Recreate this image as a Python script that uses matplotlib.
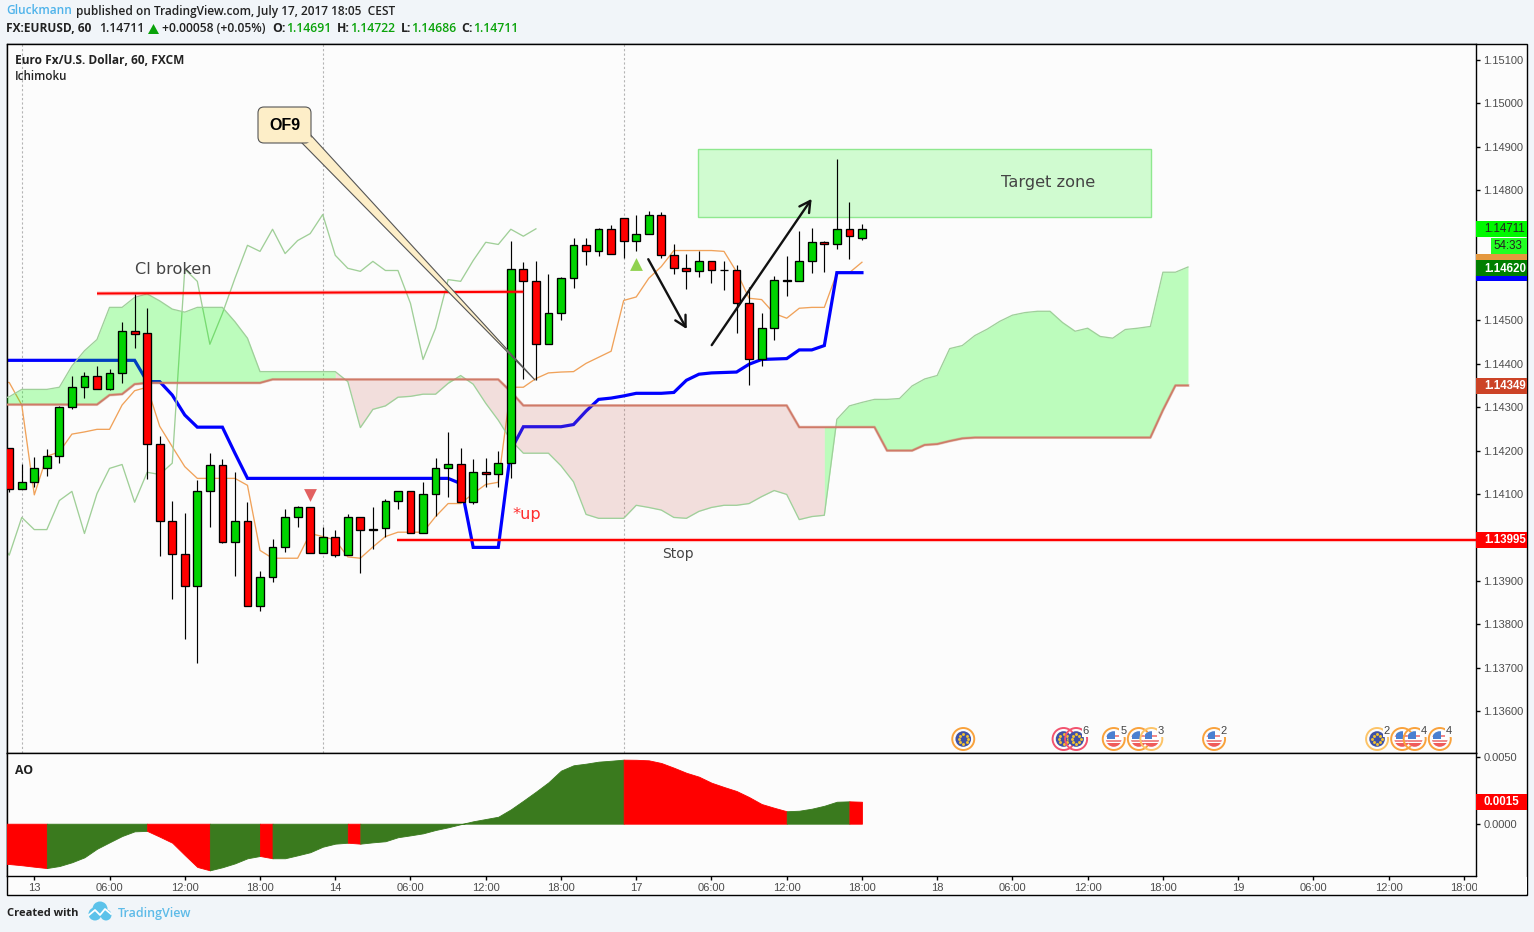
import numpy as np
import matplotlib
matplotlib.use("Agg")
import matplotlib.pyplot as plt
from matplotlib.patches import Rectangle, Circle, Polygon, FancyBboxPatch

W, H = 1534, 932
# ---------------- data (prices x 1e5, bar index 0 = 13 Jul 00:00) ----------------
opens = [114205,114111,114127,114161,114187,114300,114346,114373,114343,114378,114475,114470,114216,114037,113961,113887,114106,114166,113990,114037,113841,113908,113977,114046,114069,113965,114002,113959,114046,114020,114021,114085,114106,114009,114101,114159,114168,114081,114150,114145,114171,114618,114590,114445,114516,114597,114673,114659,114710,114735,114684,114700,114744,114650,114620,114613,114636,114615,114615,114539,114410,114482,114594,114590,114638,114680,114675,114710,114691]
highs = [114207,114169,114186,114203,114303,114372,114382,114395,114388,114496,114561,114528,114233,114084,114056,114132,114194,114180,114150,114081,113922,113996,114065,114072,114069,114025,114018,114054,114046,114071,114088,114106,114108,114127,114184,114242,114205,114180,114182,114198,114684,114634,114636,114606,114601,114689,114691,114714,114720,114735,114744,114751,114749,114676,114653,114660,114636,114636,114627,114578,114516,114602,114648,114705,114712,114682,114871,114772,114722]
lows = [114105,114111,114117,114142,114172,114296,114322,114341,114339,114356,114436,114135,113958,113858,113766,113710,114024,113988,113911,113841,113831,113897,113966,114024,113963,113965,113955,113959,113918,113973,114002,114066,114009,114009,114050,114094,114081,114078,114117,114115,114138,114366,114362,114445,114501,114575,114628,114648,114654,114644,114660,114700,114643,114607,114572,114601,114586,114570,114471,114351,114395,114455,114556,114590,114610,114612,114665,114641,114686]
closes = [114111,114127,114161,114187,114300,114346,114373,114343,114378,114475,114469,114216,114037,113961,113887,114106,114166,113990,114037,113841,113908,113977,114046,114069,113965,114002,113959,114046,114018,114018,114085,114106,114009,114101,114159,114168,114081,114150,114145,114171,114618,114590,114445,114516,114597,114673,114659,114710,114654,114684,114700,114744,114650,114620,114613,114636,114615,114615,114539,114410,114482,114594,114590,114638,114680,114675,114710,114694,114711]
candle_first_bar = -2

kijun = [114408,114408,114408,114408,114408,114408,114408,114408,114408,114408,114408,114408,114359,114359,114328,114282,114254,114254,114254,114194,114136,114136,114136,114136,114136,114136,114136,114136,114136,114136,114136,114136,114136,114136,114136,114136,114136,114124,113977,113977,113977,114201,114255,114255,114255,114255,114260,114291,114318,114321,114326,114332,114332,114332,114334,114362,114376,114379,114380,114381,114399,114410,114411,114412,114432,114432,114442,114610,114610,114610]
tenkan = [114357,114357,114305,114098,114187,114197,114238,114243,114249,114249,114305,114338,114346,114256,114209,114163,114136,114136,114136,114136,114120,113970,113952,113952,113952,114009,114002,113994,113955,113952,113978,114002,114012,114012,114012,114048,114078,114078,114101,114122,114127,114346,114346,114366,114379,114381,114382,114401,114415,114429,114546,114554,114597,114624,114661,114661,114661,114661,114659,114612,114551,114548,114516,114505,114528,114530,114530,114609,114610,114634]
span_a = [114316,114324,114341,114341,114341,114346,114395,114430,114456,114530,114530,114553,114561,114545,114526,114519,114530,114530,114530,114497,114459,114382,114382,114382,114382,114382,114382,114382,114359,114253,114295,114303,114323,114325,114330,114330,114355,114373,114353,114309,114270,114224,114194,114194,114194,114165,114128,114053,114044,114044,114044,114074,114069,114063,114046,114044,114060,114069,114074,114074,114078,114094,114108,114099,114041,114048,114051,114272,114303,114311,114318,114318,114320,114349,114365,114373,114435,114442,114465,114480,114498,114512,114518,114521,114521,114495,114475,114482,114463,114459,114479,114482,114486,114611,114611,114623]
span_b = [114306,114306,114306,114306,114306,114306,114306,114306,114306,
          114328,114330,114353,
          114356,114356,114356,114356,114356,114356,114356,114356,114356,114356,
          114364,114364,114364,114364,114364,114364,114364,114364,114364,114364,
          114364,114364,114364,114364,114364,114364,114364,114364,114364,
          114336,
          114304,114304,114304,114304,114304,114304,114304,114304,114304,114304,114304,
          114304,114304,114304,114304,114304,114304,114304,114304,114304,114304,114304,
          114254,114254,114254,114254,114254,114254,114254,
          114200,114200,114200,
          114213,114215,114222,114228,
          114230,114230,114230,114230,114230,114230,114230,114230,114230,114230,114230,114230,114230,114230,114230,
          114293,114350,114350]
ichimoku_first_bar = -3
chikou_shift = 26

ao_values = [-30.0,-30.1,-31.0,-32.1,-33.1,-31.6,-28.8,-25.1,-18.7,-13.9,-9.2,-5.7,-5.4,-9.7,-14.2,-23.4,-32.3,-34.8,-32.5,-29.6,-25.8,-24.1,-25.8,-25.8,-23.6,-21.3,-17.2,-14.9,-14.2,-14.9,-13.9,-13.1,-10.1,-8.7,-7.2,-4.7,-2.7,-0.4,1.8,3.5,5.2,10.7,17.2,23.9,30.9,39.6,43.6,44.8,46.3,47.0,47.8,47.7,47.3,45.3,41.8,38.0,35.1,30.6,27.4,24.4,19.9,14.7,11.9,9.3,9.7,11.2,13.4,16.4,16.7,16.4]

price_ticks = [115100,115000,114900,114800,114700,114600,114500,114400,114300,114200,114100,114000,113900,113800,113700,113600]
price_ticks_hidden = [114700, 114600]  # covered by the last-value labels
ao_ticks = [0.0050, 0.0]
time_labels = ["13","06:00","12:00","18:00","14","06:00","12:00","18:00","17","06:00","12:00","18:00","18","06:00","12:00","18:00","19","06:00","12:00","18:00"]
time_bars = [0,6,12,18,24,30,36,42,48,54,60,66,72,78,84,90,96,102,108,114]
session_breaks = [-1, 23, 47]

cl_broken_bars, cl_broken_prices = [5, 39], [114562, 114566]
stop_first_bar, stop_price = 28.9, 113995
target_bars, target_prices = (52.93, 89.05), (114738, 114895)
arrow_down = ((48.96, 114641), (52.03, 114480))
arrow_up = ((54.02, 114443), (61.99, 114780))
up_marker = (48, 114630)
down_marker = (22, 114098)

# (bar, kind, ring, count)
events = [(74,"eu","o",None),(82,"eu","r",None),(83,"eu","r",6),(86,"us","o",5),(88,"us","o",None),
          (89,"us","l",3),(94,"us","o",2),(107,"eu","l",2),(109,"us","o",None),(110,"us","o",4),(112,"us","o",4)]

# ---------------- scales ----------------
BAR0, BARW = 34.3, 12.54
Y0, PXP = 60.0, 43400.0
L, R, T, MID, BOT, FOOT = 7.0, 1476.0, 44.0, 753.0, 876.0, 895.0
AO0, AOPX = 823.7, 13400.0

def bx(px): return (px - BAR0) / BARW
def xpx(bar): return BAR0 + BARW * bar
def py(p): return Y0 + (1.151 - p) * PXP
def pp(y): return 1.151 - (y - Y0) / PXP

BG, OUT = "#fcfcfc", "#f1f5f9"
TXT = "#4c4c4c"
fig = plt.figure(figsize=(W/100, H/100), dpi=100, facecolor=OUT)
fig.add_artist(Rectangle((L/W, 1-FOOT/H), (1527-L)/W, (FOOT-T)/H, transform=fig.transFigure,
                         fc=BG, ec="black", lw=1.0, zorder=-1))

def add_ax(top, bot):
    a = fig.add_axes([L/W, 1-bot/H, (R-L)/W, (bot-top)/H], facecolor=BG)
    a.set_xlim(bx(L), bx(R))
    for s in a.spines.values():
        s.set_linewidth(1.0)
        s.set_color("black")
    return a

ax = add_ax(T, MID)
ax.set_ylim(pp(MID), pp(T))
ao = add_ax(MID, BOT)
ao.set_ylim((AO0-BOT)/AOPX, (AO0-MID)/AOPX)

SANS = "Liberation Sans"
ax.yaxis.tick_right()
ax.set_yticks(np.array(price_ticks)/1e5)
ax.set_yticklabels(["" if t in price_ticks_hidden else f"{t/1e5:.5f}" for t in price_ticks], fontsize=8, family=SANS, color=TXT)
ax.tick_params(axis="y", direction="out", length=3, width=1, pad=2.2)
ax.set_xticks([])
ao.yaxis.tick_right()
ao.set_yticks(ao_ticks)
ao.set_yticklabels([f"{t:.4f}" for t in ao_ticks], fontsize=8, family=SANS, color=TXT)
ao.tick_params(axis="y", direction="out", length=3, width=1, pad=2.2)
ao.set_xticks(time_bars)
ao.set_xticklabels(time_labels, fontsize=8, family=SANS, color=TXT)
ao.tick_params(axis="x", direction="out", length=3, width=1, pad=2.2)

# session breaks
for b in session_breaks:
    ax.axvline(b, color="#b4b4b4", lw=0.8, ls=(0, (2, 2)), zorder=1)

# ichimoku lines
ichi_x = np.arange(len(span_a)) + ichimoku_first_bar
a_v = np.array(span_a)/1e5
b_v = np.array(span_b)/1e5
ln_x = np.arange(len(kijun)) + ichimoku_first_bar
ax.plot(ln_x, np.array(tenkan)/1e5, color="#f0a25a", lw=0.95, zorder=2)
ax.plot(ln_x, np.array(kijun)/1e5, color="#0000ff", lw=2.3, zorder=2, solid_joinstyle="miter")
c_all = np.array(closes)/1e5
c_bars = np.arange(len(closes)) + candle_first_bar - chikou_shift
mask = c_bars >= -3
ax.plot(c_bars[mask], c_all[mask], color="#a0cf98", lw=0.95, zorder=2)

# cloud, coloured segment by segment
above = a_v[1:] > b_v[1:]
start = 0
for k in range(1, len(above)+1):
    if k == len(above) or above[k] != above[start]:
        xs = ichi_x[start:k+1]
        if above[start]:
            ax.fill_between(xs, a_v[start:k+1], b_v[start:k+1], color=(0, 1, 0), alpha=0.25, lw=0, zorder=3)
        else:
            ax.fill_between(xs, a_v[start:k+1], b_v[start:k+1], color=(205/255, 105/255, 95/255), alpha=0.2, lw=0, zorder=3)
        start = k
ax.plot(ichi_x, a_v, color="#9fd09a", lw=0.95, zorder=3.2)
ax.plot(ichi_x, b_v, color="#cc6a55", lw=2.1, alpha=0.35, zorder=3.2)
ax.plot(ichi_x, b_v, color="#cf7a68", lw=1.2, zorder=3.3)

# target zone below the candles
ax.add_patch(Rectangle((target_bars[0], target_prices[0]/1e5), target_bars[1]-target_bars[0],
                       (target_prices[1]-target_prices[0])/1e5, fc="#d0fbd0", ec="#8fe88f", lw=1.0, zorder=1.5))

# candles
o = np.array(opens)/1e5; h = np.array(highs)/1e5; l = np.array(lows)/1e5; c = np.array(closes)/1e5
bars = np.arange(len(o)) + candle_first_bar
ax.vlines(bars, l, h, color="black", lw=0.85, zorder=4)
cols = ["#00d400" if cc >= oo else "#ff0000" for oo, cc in zip(o, c)]
ax.bar(bars, np.abs(c-o), bottom=np.minimum(o, c), width=0.62, color=cols, edgecolor="black", lw=0.95, zorder=4.5)

# drawings
ax.plot(cl_broken_bars, np.array(cl_broken_prices)/1e5, color="#ff0000", lw=3, alpha=0.2, zorder=5, solid_capstyle="butt")
ax.plot(cl_broken_bars, np.array(cl_broken_prices)/1e5, color="#ff0000", lw=1.5, zorder=5, solid_capstyle="butt")
ax.plot([stop_first_bar, bx(R)], [stop_price/1e5]*2, color="#ff0000", lw=3, alpha=0.2, zorder=5, solid_capstyle="butt")
ax.plot([stop_first_bar, bx(R)], [stop_price/1e5]*2, color="#ff0000", lw=1.5, zorder=5, solid_capstyle="butt")
for (p0, p1) in (arrow_down, arrow_up):
    ax.annotate("", xy=(p1[0], p1[1]/1e5), xytext=(p0[0], p0[1]/1e5),
                arrowprops=dict(arrowstyle="->,head_length=0.55,head_width=0.3", color="#111111", lw=1.7,
                                shrinkA=0, shrinkB=0, mutation_scale=14), zorder=6)
ax.scatter([up_marker[0]], [up_marker[1]/1e5], marker="^", s=85, color="#8fd14f", lw=0, zorder=6)
ax.scatter([down_marker[0]], [down_marker[1]/1e5], marker="v", s=85, color="#e26060", lw=0, zorder=6)

# AO area, coloured by direction
ao_v = np.array(ao_values)/1e4
ao_x = np.arange(len(ao_v)) + ichimoku_first_bar
rising = np.diff(ao_v) >= 0
start = 0
for k in range(1, len(rising)+1):
    if k == len(rising) or rising[k] != rising[start]:
        xs = ao_x[start:k+1]
        ao.fill_between(xs, ao_v[start:k+1], 0, color="#3a7a1e" if rising[start] else "#ff0000", lw=0.6, zorder=3)
        start = k

# ---------------- overlay in pixel units ----------------
ov = fig.add_axes([0, 0, 1, 1], zorder=10)
ov.set_xlim(0, W); ov.set_ylim(H, 0); ov.axis("off"); ov.patch.set_alpha(0)

def txt(x, y, s, size=9, color="black", weight="normal", family="Open Sans", ha="left", **kw):
    return ov.text(x, y, s, fontsize=size, color=color, fontweight=weight, family=family, ha=ha, va="center", **kw)

txt(6, 11, "Gluckmann", 8.6, "#4fb3ea", "semibold")
txt(76, 11, "published on TradingView.com, July 17, 2017 18:05  CEST", 8.55, "#222222", "semibold")
txt(6, 29, "FX:EURUSD, 60", 8.6, "#222222", "bold")
txt(99, 29, "1.14711", 8.8, "#222222", "semibold")
ov.add_patch(Polygon([(148, 34), (159, 34), (153.5, 24)], fc="#0aa30a", ec="none"))
txt(162, 29, "+0.00058 (+0.05%)", 8.7, "#222222", "semibold")
for x_l, lab, x_v, val in [(272, "O:", 286, "1.14691"), (337, "H:", 350, "1.14722"), (401, "L:", 411, "1.14686"), (461, "C:", 473, "1.14711")]:
    txt(x_l, 29, lab, 8.8, "#222222", "bold")
    txt(x_v, 29, val, 8.8, "#0aa30a", "semibold")
txt(15, 60, "Euro Fx/U.S. Dollar, 60, FXCM", 8.6, "#222222", "bold")
txt(15, 77, "Ichimoku", 8.4, "#222222", "semibold")
txt(15, 770, "AO", 8.8, "#222222", "bold")
txt(7, 914, "Created with", 8.0, "#222222", "bold")
txt(118, 914, "TradingView", 9.0, "#5ebbe8", "semibold")

# logo
for cx, cy, r in [(95, 914, 6.5), (100, 909, 7.5), (106, 915, 5.5)]:
    ov.add_patch(Circle((cx, cy), r, fc="#5cc2ea", ec="none"))
ov.plot([89, 95, 100, 105, 111], [915, 910, 915, 909, 914], color="white", lw=1.3)

# annotations
txt(135, 270, "Cl broken", 11.6, "#444444", family="DejaVu Sans")
txt(1001, 182, "Target zone", 11.6, "#444444", family="DejaVu Sans")
txt(662, 554, "Stop", 10, "#444444", family="DejaVu Sans")
txt(512, 514, "*up", 11.6, "#ff2d2d", family="DejaVu Sans")

# OF9 callout
ov.add_patch(Polygon([(301.7, 142.7), (310.7, 135), (535.3, 380.3)], fc="#fdeec8", ec="#555555", lw=0.8, joinstyle="miter"))
ov.add_patch(FancyBboxPatch((262, 111), 45, 28, boxstyle="round,pad=4,rounding_size=6", fc="#fdeec8", ec="#555555", lw=0.8))
ov.add_patch(Polygon([(302.6, 141.2), (309.5, 135.5), (318, 145)], fc="#fdeec8", ec="none"))
txt(284.5, 125, "OF9", 11.5, "black", "bold", family=SANS, ha="center")

# clip the last time label at the price scale
ov.add_patch(Rectangle((R+0.5, BOT+1), 50, FOOT-BOT-1.8, fc=BG, ec="none"))

# price scale labels
def box(y, label, fc, tc, x0=R, x1=1526.5, weight="normal", hh=8):
    ov.add_patch(Rectangle((x0, y-hh), x1-x0, 2*hh, fc=fc, ec="none"))
    if label:
        ov.text(1484 if x0 == R else x0+2.5, y+0.3, label, fontsize=8.3, color=tc, family=SANS, fontweight=weight, ha="left", va="center")

box(py(closes[-1]/1e5), f"{closes[-1]/1e5:.5f}", "#00f800", "#222222")
box(245.7, "54:33", "#22ff22", "#222222", x0=1491)
box(py(tenkan[-1]/1e5), "", "#e5983e", "white")
box(py(kijun[-1]/1e5), "", "#0000ff", "white")
box(py(1.14620), "1.14620", "#007f00", "white", weight="bold")
box(py(span_b[-1]/1e5), "1.14349", "#cc4326", "white", weight="bold")
box(py(stop_price/1e5), "1.13995", "#ff0000", "white", weight="bold")
box(AO0 - ao_values[-1]/1e4*AOPX, "0.0015", "#ff0000", "white", weight="bold")

# economic events
RINGS = {"o": "#f9a23c", "r": "#f2536f", "l": "#fcc468"}
ICON_Y = 739
for bar, kind, ring, count in events:
    cx = xpx(bar) + 1
    ov.add_patch(Circle((cx, ICON_Y), 11, fc="none", ec=RINGS[ring], lw=1.4))
    disc = Circle((cx, ICON_Y), 7.8, fc="#3f51a5" if kind == "eu" else "white", ec="none")
    ov.add_patch(disc)
    if kind == "eu":
        ang = np.arange(8) * np.pi / 4
        ov.scatter(cx + 4.6*np.cos(ang), ICON_Y + 4.6*np.sin(ang), s=4.5, color="#f2c230", lw=0)
    else:
        for yy, hh, col in [(ICON_Y+4, 4, "#ef5a5a"), (ICON_Y+0.5, 2, "#f08a8a"), (ICON_Y-4, 2, "#f08a8a")]:
            r = Rectangle((cx-8, yy), 16, hh, fc=col, ec="none")
            ov.add_patch(r); r.set_clip_path(disc)
        r = Rectangle((cx-6.5, ICON_Y-8), 7.5, 8, fc="#4a7fd0", ec="none")
        ov.add_patch(r); r.set_clip_path(disc)
    if count:
        ov.text(cx+9.5, ICON_Y-7.5, str(count), fontsize=8, family=SANS, color="#444444", ha="center", va="center",
                bbox=dict(fc=BG, ec="none", pad=0.6))

fig.savefig("out.png", dpi=100, facecolor=OUT)
